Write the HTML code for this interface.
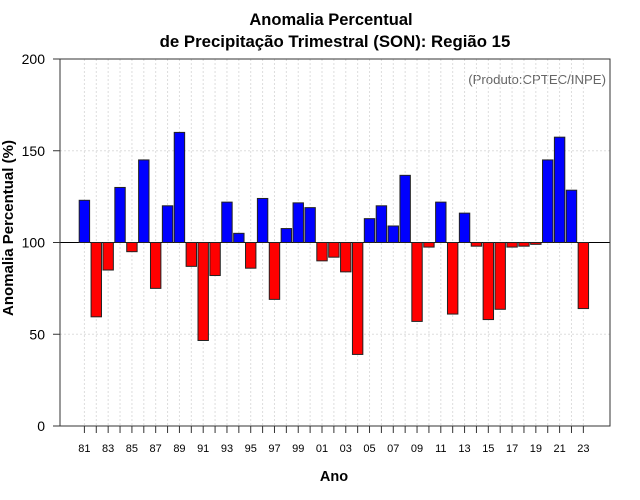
<!DOCTYPE html>
<html><head><meta charset="utf-8"><style>
body{margin:0;background:#fff;}
svg{display:block;font-family:"Liberation Sans",sans-serif;}
</style></head><body>
<svg id="chart" width="640" height="500">
<text x="331" y="25" text-anchor="middle" font-size="16.5" font-weight="bold">Anomalia Percentual</text>
<text x="335" y="47" text-anchor="middle" font-size="16.8" font-weight="bold">de Precipitação Trimestral (SON): Região 15</text>
<text x="606" y="84" text-anchor="end" font-size="13.2" fill="#666">(Produto:CPTEC/INPE)</text>
<text x="334" y="481" text-anchor="middle" font-size="14.5" font-weight="bold">Ano</text>
<text transform="translate(13,228) rotate(-90)" text-anchor="middle" font-size="15" font-weight="bold">Anomalia Percentual (%)</text>
<g id="grid"></g><g id="bars"></g><g id="axes"></g>
<rect x="60" y="59" width="550" height="367" fill="none" stroke="#333" stroke-width="1"/>
</svg>
<script>
const years=[1981,1982,1983,1984,1985,1986,1987,1988,1989,1990,1991,1992,1993,1994,1995,1996,1997,1998,1999,2000,2001,2002,2003,2004,2005,2006,2007,2008,2009,2010,2011,2012,2013,2014,2015,2016,2017,2018,2019,2020,2021,2022,2023];
const values=[123,59.5,85,130,95,145,75,120,160,87,46.6,82,122,105,86,124,69,107.6,121.6,119,90,92,84,39,113,120,109,136.6,57,97.5,122,61,116,98,58,63.6,97.5,98,99,145,157.4,128.5,64];
const yTicks=[0,50,100,150,200];
const NS='http://www.w3.org/2000/svg';
const x=yr=>84.4+(yr-1981)*11.88;
const y=v=>426-v*1.835;
function mk(tag,a,p){const e=document.createElementNS(NS,tag);for(const k in a)e.setAttribute(k,a[k]);p.appendChild(e);return e;}
const grid=document.getElementById('grid'),bars=document.getElementById('bars'),axes=document.getElementById('axes');
years.forEach(yr=>{
  const l=mk('line',{x1:x(yr),x2:x(yr),y1:59,y2:426,stroke:'#ddd','stroke-dasharray':'2,2'},grid);
  
  
  const t=mk('line',{x1:x(yr),x2:x(yr),y1:426,y2:433,stroke:'#333'},axes);
  
  
  if((yr-1981)%2===0){
    const tx=mk('text',{x:x(yr),y:452,'text-anchor':'middle','font-size':11},axes);
    tx.textContent=String(yr%100).padStart(2,'0');
    
    
  }
});
yTicks.forEach(v=>{
  if(v>0&&v<200){const g=mk('line',{x1:60,x2:610,y1:y(v),y2:y(v),stroke:'#ddd','stroke-dasharray':'2,2'},grid);
  
  }
  const t=mk('line',{x1:53,x2:60,y1:y(v),y2:y(v),stroke:'#333'},axes);
  
  
  const tx=mk('text',{x:45,y:y(v)+5,'text-anchor':'end','font-size':14},axes);
  tx.textContent=v;
  
  
});
const base=mk('line',{x1:60,x2:610,y1:y(100),y2:y(100),stroke:'#000'},grid);


values.forEach((v,i)=>{
  const top=Math.min(y(v),y(100)),h=Math.abs(y(v)-y(100));
  const r=mk('rect',{x:x(years[i])-5.2,y:top,width:10.4,height:h,fill:v>=100?'#0000ff':'#ff0000',stroke:'#222','stroke-width':1},bars);
  
  
});
</script>
</body></html>
